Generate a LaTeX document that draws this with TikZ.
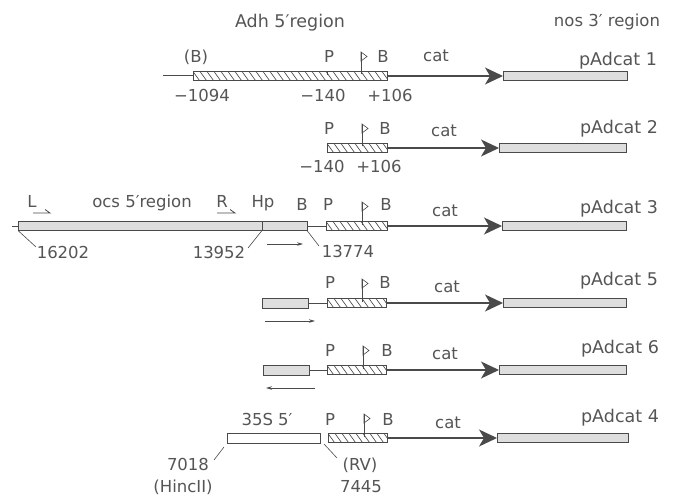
\documentclass[tikz,border=0pt]{standalone}
\usepackage{fontspec}
\setmainfont{DejaVu Sans}
\usetikzlibrary{arrows.meta}

\definecolor{ink}{HTML}{4A4A4A}
\definecolor{txt}{HTML}{555555}
\definecolor{stip}{HTML}{DEDEDE}

\begin{document}
\begin{tikzpicture}[x=1pt,y=-1pt,
  every node/.style={inner sep=0pt, outer sep=0pt},
  lbl/.style={anchor=base, text=txt, font=\fontsize{16.5}{20}\selectfont},
  big/.style={anchor=base, text=txt, font=\fontsize{17.5}{20}\selectfont},
  seg/.style={draw=ink, line width=0.9pt, rectangle, minimum height=9pt},
  adhbox/.style={seg, fill=white, path picture={
      \foreach \i in {-2,...,32}
        \draw[ink, line width=0.65pt]
          ([xshift=\i*7pt]path picture bounding box.north west) -- ++(6.5pt,-9pt);}},
  nosbox/.style={seg, fill=stip},
  ocsbox/.style={seg, fill=stip},
  plainbox/.style={seg, fill=white, minimum height=10pt},
  wire/.style={draw=ink, line width=1pt},
  catarrow/.style={draw=ink, line width=1.3pt,
      -{Stealth[length=18pt, width=17pt, inset=5pt]}},
  leader/.style={draw=ink, line width=0.6pt},
  orient/.style={draw=ink, line width=0.8pt, -{Stealth[length=6pt, width=3.5pt]}},
  flagmark/.pic={
    \draw[ink, line width=0.6pt, fill=white] (0,19.5pt) -- (6pt,15pt) -- (0,10.5pt) -- cycle;
    \draw[ink, line width=0.8pt] (0,-3pt) -- (0,19.5pt);
  }
]
\useasboundingbox (0,0) rectangle (673,495);

% column headings
\node[big] (hAdh) at (290,28) {Adh 5′region};
\node[lbl] (hNos) at (607,27) {nos 3′ region};

% ---------- pAdcat 1 ----------
\coordinate (t1) at (163,76);
\node[adhbox, minimum width=194pt] (h1) at (290,76) {};
\node[nosbox, minimum width=124pt] (n1) at (565,76) {};
\draw[wire] (t1) -- (h1.west);
\draw[catarrow] (h1.east) -- (n1.west);
\draw[ink, line width=0.8pt] (327,71.5) -- (327,75.5);
\pic at (361,71.5) {flagmark};
\node[lbl] (b1a) at (196,63) {(B)};
\node[lbl] (p1) at (329,63) {P};
\node[lbl] (b1b) at (383,63) {B};
\node[lbl] (c1) at (436,62) {cat};
\node[lbl] (m1a) at (202,102) {−1094};
\node[lbl] (m1b) at (323,102) {−140};
\node[lbl] (m1c) at (390,102) {+106};
\node[big] (name1) at (618,66) {pAdcat 1};

% ---------- pAdcat 2 ----------
\node[adhbox, minimum width=60pt] (h2) at (357,148) {};
\node[nosbox, minimum width=127pt] (n2) at (562.5,148) {};
\draw[catarrow] (h2.east) -- (n2.west);
\pic at (362,143.5) {flagmark};
\node[lbl] (p2) at (329,135) {P};
\node[lbl] (b2) at (385,135) {B};
\node[lbl] (c2) at (444,136) {cat};
\node[lbl] (m2a) at (322,172) {−140};
\node[lbl] (m2b) at (379,172) {+106};
\node[big] (name2) at (619,134) {pAdcat 2};

% ---------- pAdcat 3 ----------
\coordinate (t3) at (12,226);
\node[ocsbox, minimum width=244pt] (o3a) at (140,226) {};
\node[ocsbox, minimum width=45pt] (o3b) at (284.5,226) {};
\node[adhbox, minimum width=61pt] (h3) at (356.5,226) {};
\node[nosbox, minimum width=124pt] (n3) at (564,226) {};
\draw[wire] (t3) -- (o3a.west);
\draw[wire] (o3b.east) -- (h3.west);
\draw[catarrow] (h3.east) -- (n3.west);
\pic at (362,221.5) {flagmark};
\node[lbl] (l3) at (32,207) {L};
\node[lbl] (ocs3) at (142,207) {ocs 5′region};
\node[lbl] (r3) at (222,207) {R};
\node[lbl] (hp3) at (263,207) {Hp};
\node[lbl] (b3a) at (302,211) {B};
\node[lbl] (p3) at (328,211) {P};
\node[lbl] (b3b) at (386,211) {B};
\node[lbl] (c3) at (445,216) {cat};
\node[lbl] (k3a) at (63,258) {16202};
\node[lbl] (k3b) at (219,258) {13952};
\node[lbl] (k3c) at (348,257) {13774};
\node[big] (name3) at (619,213) {pAdcat 3};
% transcript starts
\draw[ink, line width=0.8pt] (33,213) -- (50,213) -- (45,209.5);
\draw[ink, line width=0.8pt] (217,213) -- (235,213) -- (230,209.5);
% map positions
\coordinate (q3a) at (36,247);
\coordinate (q3b) at (248,248);
\coordinate (q3c) at (319,246);
\draw[leader] (o3a.south west) -- (q3a);
\draw[leader] (o3b.south west) -- (q3b);
\draw[leader] (o3b.south east) -- (q3c);
\coordinate (a3s) at (267,244);
\coordinate (a3e) at (303,244);
\draw[orient] (a3s) -- (a3e);

% ---------- pAdcat 5 ----------
\node[ocsbox, minimum width=46pt, minimum height=10pt] (s5) at (285,303) {};
\node[adhbox, minimum width=59pt] (h5) at (356.5,303) {};
\node[nosbox, minimum width=123pt] (n5) at (564.5,303) {};
\draw[wire] (s5.east) -- (h5.west);
\draw[catarrow] (h5.east) -- (n5.west);
\pic at (362,298.5) {flagmark};
\node[lbl] (p5) at (330,288) {P};
\node[lbl] (b5) at (385,288) {B};
\node[lbl] (c5) at (447,292) {cat};
\node[big] (name5) at (619,285) {pAdcat 5};
\coordinate (a5s) at (265,321);
\coordinate (a5e) at (315,321);
\draw[orient] (a5s) -- (a5e);

% ---------- pAdcat 6 ----------
\node[ocsbox, minimum width=46pt, minimum height=10pt] (s6) at (286,370) {};
\node[adhbox, minimum width=59pt] (h6) at (356.5,370) {};
\node[nosbox, minimum width=127pt] (n6) at (562.5,370) {};
\draw[wire] (s6.east) -- (h6.west);
\draw[catarrow] (h6.east) -- (n6.west);
\pic at (363,365.5) {flagmark};
\node[lbl] (p6) at (330,356) {P};
\node[lbl] (b6) at (387,356) {B};
\node[lbl] (c6) at (445,359) {cat};
\node[big] (name6) at (620,353) {pAdcat 6};
\coordinate (a6s) at (315,388);
\coordinate (a6e) at (266,388);
\draw[orient] (a6s) -- (a6e);

% ---------- pAdcat 4 ----------
\node[plainbox, minimum width=93pt] (b4) at (273.5,438) {};
\node[adhbox, minimum width=59pt] (h4) at (357.5,438) {};
\node[nosbox, minimum width=131pt] (n4) at (562.5,438) {};
\draw[catarrow] (h4.east) -- (n4.west);
\pic at (364,433.5) {flagmark};
\node[lbl] (s35) at (267,425) {35S 5′};
\node[lbl] (p4) at (330,425) {P};
\node[lbl] (b4b) at (388,425) {B};
\node[lbl] (c4) at (448,428) {cat};
\node[big] (name4) at (620,422) {pAdcat 4};
\node[lbl] (k4a) at (188,470) {7018};
\node[lbl] (k4b) at (183,492) {(HincII)};
\node[lbl] (k4c) at (360,470) {(RV)};
\node[lbl] (k4d) at (361,492) {7445};
\coordinate (q4a) at (214,460);
\coordinate (q4b0) at (324,444);
\coordinate (q4b) at (337,458);
\draw[leader] ([xshift=-3pt,yshift=-4pt]b4.south west) -- (q4a);
\draw[leader] (q4b0) -- (q4b);
\end{tikzpicture}
\end{document}
